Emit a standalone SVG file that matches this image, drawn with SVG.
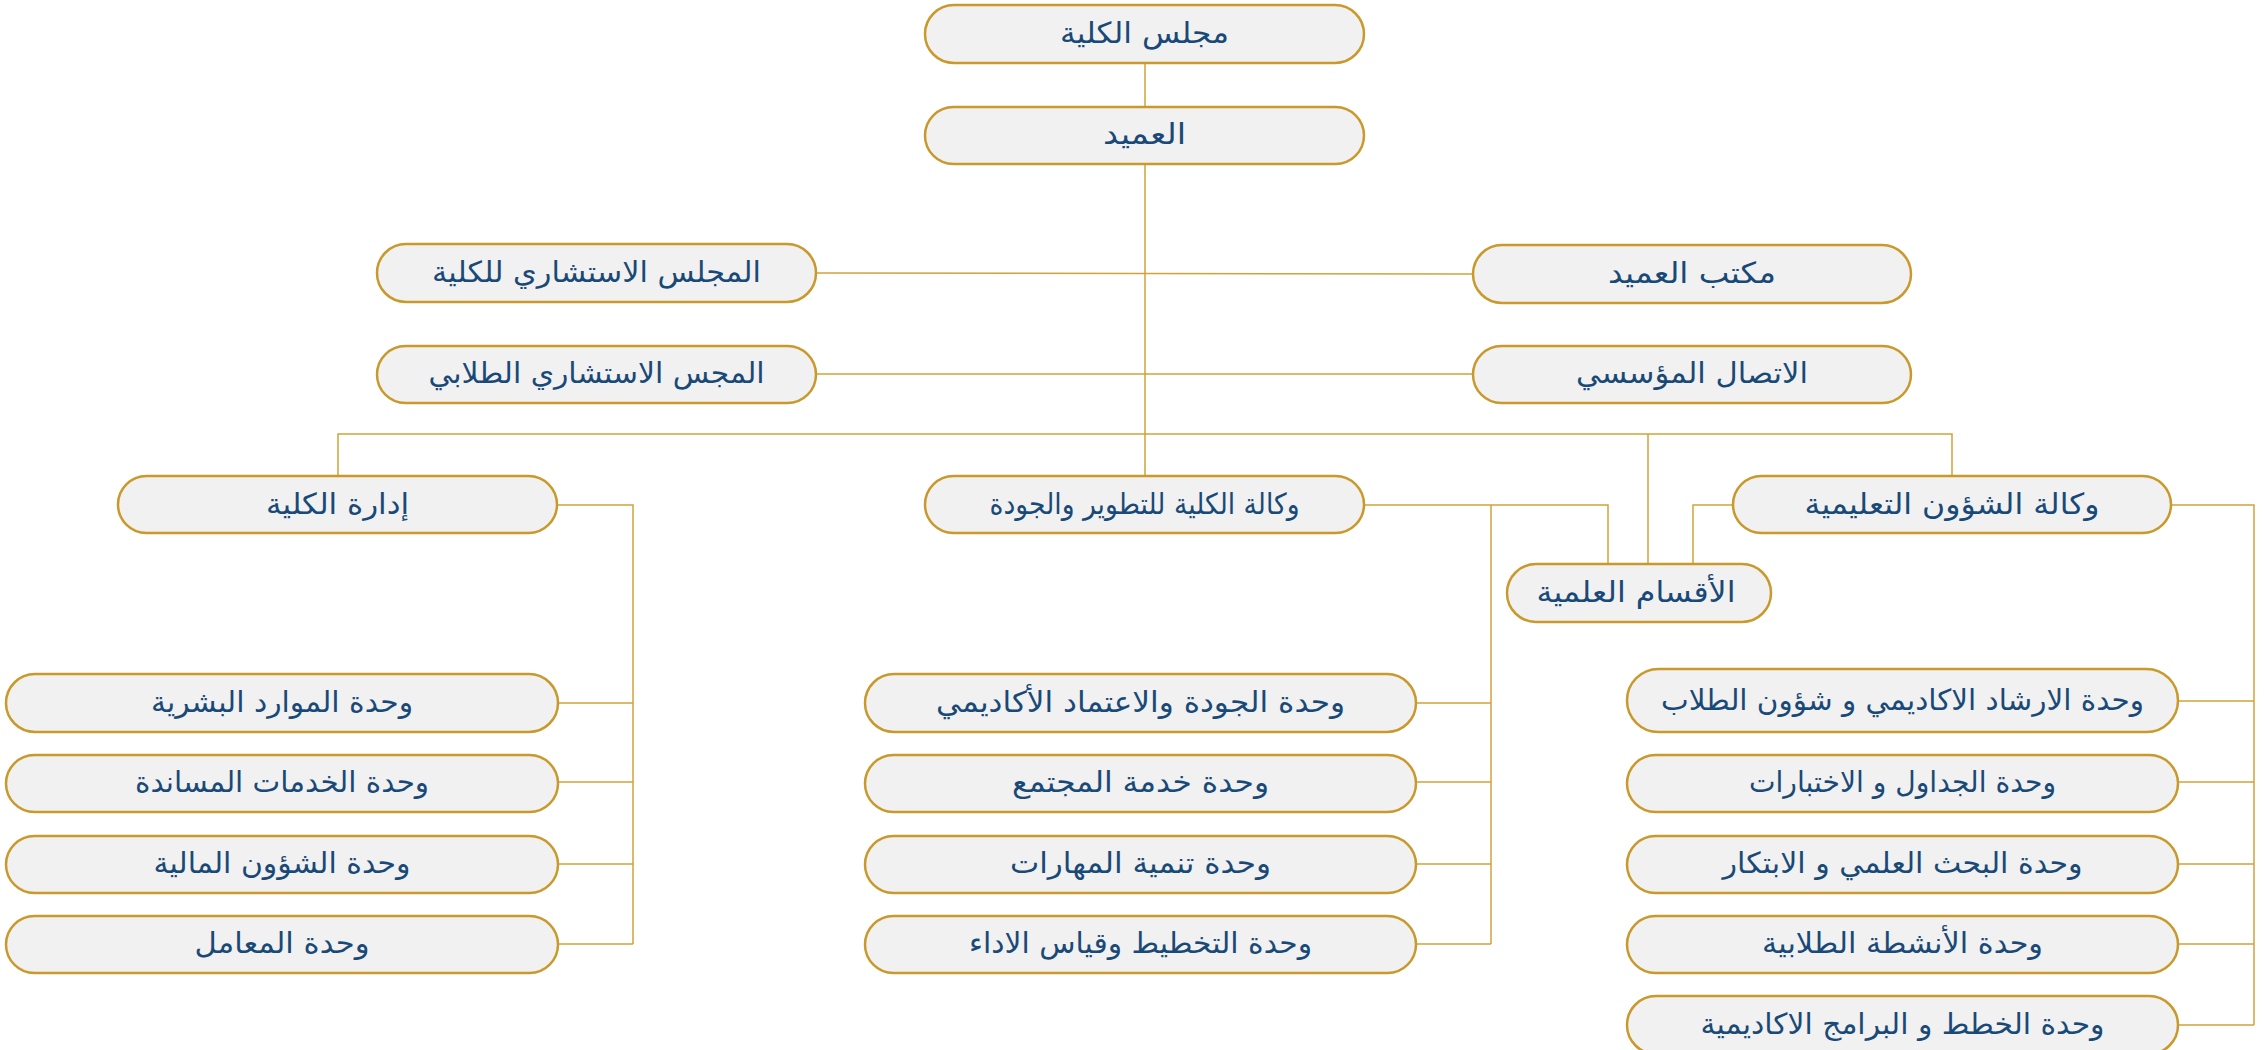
<svg xmlns="http://www.w3.org/2000/svg" width="2264" height="1050" viewBox="0 0 2264 1050">
<style>
.n rect{fill:#f1f1f1;stroke:#c9992c;stroke-width:2.5}
.n text{font-family:"DejaVu Sans","Noto Sans",sans-serif;font-size:29px;fill:#194977;text-anchor:middle;direction:rtl}
.c{stroke:#d2a23a;stroke-width:1.5;fill:none}
</style>
<rect width="2264" height="1050" fill="#ffffff"/>
<g id="connectors">
<path class="c" d="M1145 63V107"/>
<path class="c" d="M1145 164V476"/>
<path class="c" d="M816 273L1473 274"/>
<path class="c" d="M816 374H1473"/>
<path class="c" d="M338 476V434H1952V476"/>
<path class="c" d="M1648 434V564"/>
<path class="c" d="M557 505H633V944"/>
<path class="c" d="M558 703H633M558 782H633M558 864H633M558 944H633"/>
<path class="c" d="M1364 505H1608V564"/>
<path class="c" d="M1491 505V944"/>
<path class="c" d="M1416 703H1491M1416 782H1491M1416 864H1491M1416 944H1491"/>
<path class="c" d="M1733 505H1693V564"/>
<path class="c" d="M2171 505H2254V1025"/>
<path class="c" d="M2178 701H2254M2178 782H2254M2178 864H2254M2178 944H2254M2178 1025H2254"/>
</g>
<g id="n-council" class="n"><rect x="925" y="5" width="439" height="58" rx="29"/><text x="1144.5" y="43" textLength="169" lengthAdjust="spacingAndGlyphs">مجلس الكلية</text></g>
<g id="n-dean" class="n"><rect x="925" y="107" width="439" height="57" rx="28.5"/><text x="1144.5" y="144" textLength="83" lengthAdjust="spacingAndGlyphs">العميد</text></g>
<g id="n-advisory" class="n"><rect x="377" y="244" width="439" height="58" rx="29"/><text x="596.5" y="282" textLength="329" lengthAdjust="spacingAndGlyphs">المجلس الاستشاري للكلية</text></g>
<g id="n-student-advisory" class="n"><rect x="377" y="346" width="439" height="57" rx="28.5"/><text x="596.5" y="383" textLength="336" lengthAdjust="spacingAndGlyphs">المجس الاستشاري الطلابي</text></g>
<g id="n-dean-office" class="n"><rect x="1473" y="245" width="438" height="58" rx="29"/><text x="1692" y="283" textLength="168" lengthAdjust="spacingAndGlyphs">مكتب العميد</text></g>
<g id="n-comm" class="n"><rect x="1473" y="346" width="438" height="57" rx="28.5"/><text x="1692" y="383" textLength="232" lengthAdjust="spacingAndGlyphs">الاتصال المؤسسي</text></g>
<g id="n-admin" class="n"><rect x="118" y="476" width="439" height="57" rx="28.5"/><text x="337.5" y="514" textLength="143" lengthAdjust="spacingAndGlyphs">إدارة الكلية</text></g>
<g id="n-quality" class="n"><rect x="925" y="476" width="439" height="57" rx="28.5"/><text x="1144.5" y="514" textLength="310" lengthAdjust="spacingAndGlyphs">وكالة الكلية للتطوير والجودة</text></g>
<g id="n-edu" class="n"><rect x="1733" y="476" width="438" height="57" rx="28.5"/><text x="1952" y="514" textLength="295" lengthAdjust="spacingAndGlyphs">وكالة الشؤون التعليمية</text></g>
<g id="n-depts" class="n"><rect x="1507" y="564" width="264" height="58" rx="29"/><text x="1636" y="602" textLength="199" lengthAdjust="spacingAndGlyphs">الأقسام العلمية</text></g>
<g id="n-hr" class="n"><rect x="6" y="674" width="552" height="58" rx="29"/><text x="282" y="712" textLength="262" lengthAdjust="spacingAndGlyphs">وحدة الموارد البشرية</text></g>
<g id="n-support" class="n"><rect x="6" y="755" width="552" height="57" rx="28.5"/><text x="282" y="792" textLength="294" lengthAdjust="spacingAndGlyphs">وحدة الخدمات المساندة</text></g>
<g id="n-finance" class="n"><rect x="6" y="836" width="552" height="57" rx="28.5"/><text x="282" y="873" textLength="257" lengthAdjust="spacingAndGlyphs">وحدة الشؤون المالية</text></g>
<g id="n-labs" class="n"><rect x="6" y="916" width="552" height="57" rx="28.5"/><text x="282" y="953" textLength="175" lengthAdjust="spacingAndGlyphs">وحدة المعامل</text></g>
<g id="n-accred" class="n"><rect x="865" y="674" width="551" height="58" rx="29"/><text x="1140.5" y="712" textLength="409" lengthAdjust="spacingAndGlyphs">وحدة الجودة والاعتماد الأكاديمي</text></g>
<g id="n-community" class="n"><rect x="865" y="755" width="551" height="57" rx="28.5"/><text x="1140.5" y="792" textLength="257" lengthAdjust="spacingAndGlyphs">وحدة خدمة المجتمع</text></g>
<g id="n-skills" class="n"><rect x="865" y="836" width="551" height="57" rx="28.5"/><text x="1140.5" y="873" textLength="261" lengthAdjust="spacingAndGlyphs">وحدة تنمية المهارات</text></g>
<g id="n-planning" class="n"><rect x="865" y="916" width="551" height="57" rx="28.5"/><text x="1140.5" y="953" textLength="343" lengthAdjust="spacingAndGlyphs">وحدة التخطيط وقياس الاداء</text></g>
<g id="n-advising" class="n"><rect x="1627" y="669" width="551" height="63" rx="31.5"/><text x="1902.5" y="710" textLength="483" lengthAdjust="spacingAndGlyphs">وحدة الارشاد الاكاديمي و شؤون الطلاب</text></g>
<g id="n-schedules" class="n"><rect x="1627" y="755" width="551" height="57" rx="28.5"/><text x="1902.5" y="792" textLength="307" lengthAdjust="spacingAndGlyphs">وحدة الجداول و الاختبارات</text></g>
<g id="n-research" class="n"><rect x="1627" y="836" width="551" height="57" rx="28.5"/><text x="1902.5" y="873" textLength="360" lengthAdjust="spacingAndGlyphs">وحدة البحث العلمي و الابتكار</text></g>
<g id="n-activities" class="n"><rect x="1627" y="916" width="551" height="57" rx="28.5"/><text x="1902.5" y="953" textLength="281" lengthAdjust="spacingAndGlyphs">وحدة الأنشطة الطلابية</text></g>
<g id="n-programs" class="n"><rect x="1627" y="996" width="551" height="58" rx="29"/><text x="1902.5" y="1034" textLength="404" lengthAdjust="spacingAndGlyphs">وحدة الخطط و البرامج الاكاديمية</text></g>
</svg>
